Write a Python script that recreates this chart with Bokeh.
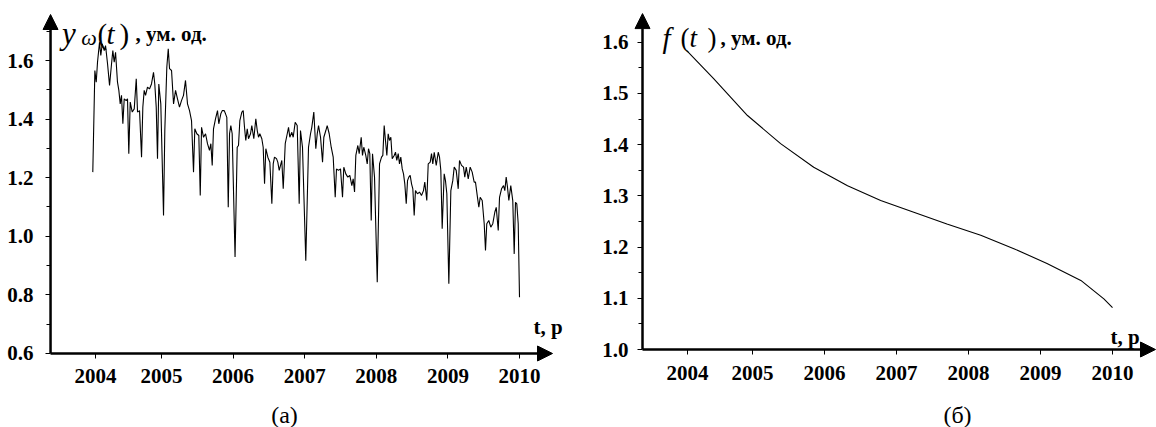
from bokeh.plotting import figure
from bokeh.layouts import row
from bokeh.models import (Range1d, FixedTicker, CustomJSTickFormatter,
                          Arrow, NormalHead, Label)
from bokeh.embed import file_html
from bokeh.resources import INLINE

# ---------------- data ----------------
# (а) weekly series y_w(t), years as decimal
years_a = [
    2004.040, 2004.069, 2004.088, 2004.106, 2004.134, 2004.152, 2004.172, 2004.200, 2004.218, 2004.246,
    2004.274, 2004.302, 2004.320, 2004.339, 2004.358, 2004.385, 2004.404, 2004.423, 2004.441, 2004.460,
    2004.479, 2004.507, 2004.525, 2004.543, 2004.563, 2004.591, 2004.619, 2004.647, 2004.665, 2004.693,
    2004.721, 2004.739, 2004.758, 2004.777, 2004.804, 2004.832, 2004.860, 2004.888, 2004.906, 2004.926,
    2004.944, 2004.962, 2004.990, 2005.028, 2005.046, 2005.074, 2005.094, 2005.112, 2005.140, 2005.168,
    2005.196, 2005.223, 2005.251, 2005.279, 2005.307, 2005.335, 2005.363, 2005.391, 2005.419, 2005.447,
    2005.465, 2005.493, 2005.521, 2005.541, 2005.559, 2005.587, 2005.615, 2005.642, 2005.670, 2005.689,
    2005.708, 2005.726, 2005.754, 2005.782, 2005.800, 2005.828, 2005.848, 2005.876, 2005.894, 2005.912,
    2005.932, 2005.950, 2005.968, 2005.987, 2006.027,
    2006.057, 2006.075, 2006.094, 2006.122, 2006.141, 2006.159, 2006.177, 2006.197, 2006.215, 2006.243,
    2006.261, 2006.289, 2006.317, 2006.337, 2006.355, 2006.373, 2006.401, 2006.420, 2006.439, 2006.457,
    2006.485, 2006.513, 2006.541, 2006.560, 2006.578, 2006.606, 2006.624, 2006.644, 2006.662, 2006.680,
    2006.700, 2006.728, 2006.756, 2006.774, 2006.792, 2006.820, 2006.839, 2006.867, 2006.895, 2006.923,
    2006.941, 2006.969, 2007.015, 2007.053, 2007.081, 2007.099, 2007.127, 2007.155, 2007.175, 2007.193,
    2007.221, 2007.249, 2007.267, 2007.295, 2007.314, 2007.342, 2007.370, 2007.398, 2007.426, 2007.444,
    2007.472, 2007.500, 2007.528, 2007.546, 2007.574, 2007.602, 2007.630, 2007.658, 2007.677, 2007.696,
    2007.714, 2007.742, 2007.761, 2007.789, 2007.807, 2007.825, 2007.853, 2007.873, 2007.891, 2007.909,
    2007.929, 2007.947, 2007.975, 2008.013,
    2008.045, 2008.073, 2008.091, 2008.110, 2008.128, 2008.147, 2008.166, 2008.184, 2008.203, 2008.222,
    2008.250, 2008.268, 2008.286, 2008.306, 2008.324, 2008.342, 2008.362, 2008.380, 2008.398, 2008.418,
    2008.436, 2008.454, 2008.473, 2008.492, 2008.510, 2008.529, 2008.547, 2008.575, 2008.603, 2008.631,
    2008.659, 2008.677, 2008.705, 2008.725, 2008.753, 2008.771, 2008.789, 2008.809, 2008.837, 2008.865,
    2008.883, 2008.901, 2008.920, 2008.948, 2008.966, 2008.985, 2009.013, 2009.041, 2009.068, 2009.088,
    2009.116, 2009.144, 2009.162, 2009.190, 2009.218, 2009.236, 2009.256, 2009.284, 2009.311, 2009.339,
    2009.367, 2009.385, 2009.413, 2009.432, 2009.451, 2009.479, 2009.507, 2009.525, 2009.543, 2009.571,
    2009.599, 2009.627, 2009.655, 2009.675, 2009.703, 2009.721, 2009.749, 2009.777, 2009.795, 2009.814,
    2009.832, 2009.851, 2009.878, 2009.906, 2009.926, 2009.944, 2009.962, 2009.982, 2010.000,
]
values_a = [
    1.219, 1.566, 1.526, 1.594, 1.662, 1.617, 1.657, 1.634, 1.651, 1.589,
    1.515, 1.589, 1.634, 1.594, 1.628, 1.526, 1.498, 1.452, 1.481, 1.384,
    1.469, 1.463, 1.469, 1.282, 1.458, 1.424, 1.435, 1.538, 1.424, 1.429,
    1.270, 1.441, 1.498, 1.481, 1.509, 1.503, 1.520, 1.560, 1.520, 1.441,
    1.265, 1.520, 1.452, 1.071, 1.361, 1.577, 1.640, 1.572, 1.566, 1.452,
    1.498, 1.469, 1.441, 1.463, 1.481, 1.532, 1.452, 1.429, 1.395, 1.219,
    1.367, 1.350, 1.344, 1.139, 1.372, 1.338, 1.350, 1.316, 1.293, 1.316,
    1.242, 1.367, 1.401, 1.429, 1.384, 1.418, 1.429, 1.429, 1.418, 1.406,
    1.099, 1.350, 1.378, 1.350, 0.929,
    1.304, 1.310, 1.395, 1.424, 1.429, 1.372, 1.327, 1.367, 1.333, 1.350,
    1.378, 1.333, 1.401, 1.361, 1.338, 1.350, 1.333, 1.304, 1.179, 1.299,
    1.270, 1.253, 1.111, 1.247, 1.270, 1.265, 1.253, 1.225, 1.242, 1.259,
    1.162, 1.316, 1.350, 1.372, 1.338, 1.355, 1.338, 1.389, 1.378, 1.111,
    1.361, 1.304, 0.917, 1.304, 1.350, 1.372, 1.424, 1.299, 1.350, 1.378,
    1.338, 1.253, 1.338, 1.361, 1.378, 1.350, 1.304, 1.270, 1.133, 1.230,
    1.225, 1.230, 1.133, 1.236, 1.213, 1.202, 1.208, 1.173, 1.196, 1.151,
    1.276, 1.310, 1.282, 1.338, 1.276, 1.304, 1.276, 1.247, 1.299, 1.282,
    1.054, 1.282, 1.202, 0.843,
    1.247, 1.270, 1.276, 1.378, 1.327, 1.276, 1.350, 1.327, 1.338, 1.265,
    1.276, 1.287, 1.259, 1.282, 1.247, 1.270, 1.230, 1.213, 1.179, 1.111,
    1.190, 1.202, 1.208, 1.179, 1.162, 1.071, 1.156, 1.145, 1.151, 1.139,
    1.156, 1.185, 1.122, 1.247, 1.253, 1.282, 1.247, 1.287, 1.242, 1.287,
    1.270, 1.225, 1.026, 1.213, 1.190, 1.145, 0.838, 1.156, 1.190, 1.236,
    1.225, 1.162, 1.259, 1.242, 1.236, 1.202, 1.236, 1.196, 1.236, 1.219,
    1.185, 1.185, 1.133, 1.099, 1.133, 1.122, 1.043, 0.952, 1.043, 1.054,
    1.031, 1.043, 1.082, 1.099, 1.020, 1.133, 1.162, 1.173, 1.156, 1.202,
    1.168, 1.122, 1.173, 1.122, 0.940, 1.116, 1.111, 1.043, 0.792,
]

# (б) trend f(t)
years_b = [2004.083, 2004.46, 2004.93, 2005.39, 2005.85, 2006.32, 2006.78, 2007.24,
           2007.70, 2008.17, 2008.63, 2009.09, 2009.56, 2009.88, 2010.00]
values_b = [1.584, 1.529, 1.457, 1.402, 1.356, 1.320, 1.291, 1.268,
            1.245, 1.223, 1.197, 1.168, 1.135, 1.099, 1.082]

# ticks (first x tick of the original sits slightly right of 2004.0)
xticks_a = [2004.078, 2005, 2006, 2007, 2008, 2009, 2010]
xticks_b = [2004.097, 2005, 2006, 2007, 2008, 2009, 2010]
yticks_a = [0.6, 0.8, 1.0, 1.2, 1.4, 1.6]
yminor_a = [0.7, 0.9, 1.1, 1.3, 1.5, 1.7]
yticks_b = [1.0, 1.1, 1.2, 1.3, 1.4, 1.5, 1.6]
yminor_b = [1.05, 1.15, 1.25, 1.35, 1.45, 1.55]

SERIF = "'Liberation Serif', 'Times New Roman', serif"


def head():
    return NormalHead(size=15, fill_color="black", line_color="black", line_width=1)


def make_fig(xr, yr, axis_x, axis_y, tip_x, tip_y, xticks, yticks, yminor, y_standoff):
    p = figure(width=578, height=427, x_range=Range1d(*xr), y_range=Range1d(*yr),
               output_backend="svg", toolbar_location=None,
               min_border_left=0, min_border_right=0, min_border_top=0,
               min_border_bottom=0)
    p.outline_line_color = None
    p.grid.visible = False
    p.background_fill_color = "white"
    for ax in (p.xaxis[0], p.yaxis[0]):
        ax.axis_line_color = None
        ax.major_tick_line_color = "black"
        ax.major_tick_line_width = 1
        ax.major_tick_in = 0
        ax.major_tick_out = 5
        ax.minor_tick_in = 0
        ax.minor_tick_out = 4
        ax.minor_tick_line_color = "black"
        ax.major_label_text_font = SERIF
        ax.major_label_text_font_style = "bold"
        ax.major_label_text_font_size = "21px"
        ax.major_label_text_color = "black"
    xa, ya = p.xaxis[0], p.yaxis[0]
    xa.fixed_location = axis_y
    ya.fixed_location = axis_x
    xa.bounds = (axis_x, tip_x)
    ya.bounds = (axis_y, tip_y)
    xa.ticker = FixedTicker(ticks=xticks, minor_ticks=[])
    xa.formatter = CustomJSTickFormatter(code="return Math.round(tick).toString()")
    xa.major_label_standoff = 11
    ya.ticker = FixedTicker(ticks=yticks, minor_ticks=yminor)
    ya.formatter = CustomJSTickFormatter(code="return tick.toFixed(1)")
    ya.major_label_standoff = y_standoff
    # axis lines with arrow heads
    p.add_layout(Arrow(end=head(), x_start=axis_x, y_start=axis_y, x_end=axis_x, y_end=tip_y,
                       line_width=2.5, line_color="black"))
    p.add_layout(Arrow(end=head(), x_start=axis_x, y_start=axis_y, x_end=tip_x, y_end=axis_y,
                       line_width=2.5, line_color="black"))
    return p


def lab(p, x, y, text, size, style="normal", align="left"):
    p.add_layout(Label(x=x, y=y, text=text, text_font=SERIF, text_font_style=style,
                       text_font_size=size, text_color="black", text_align=align,
                       text_baseline="alphabetic"))


# ---------- (а) ----------
pa = make_fig((2002.751, 2010.824), (0.3474, 1.8048), 2003.450, 0.6, 2010.461, 1.757,
              xticks_a, yticks_a, yminor_a, 12)
pa.line(years_a, values_a, line_color="black", line_width=1.1)
lab(pa, 2003.610, 1.692, "y", "31px", "italic")
lab(pa, 2003.880, 1.680, "ω", "22px", "italic")
lab(pa, 2004.106, 1.689, "(", "29px")
lab(pa, 2004.232, 1.689, "t", "29px", "italic")
lab(pa, 2004.413, 1.689, ")", "29px")
lab(pa, 2004.637, 1.692, ", ум. од.", "21px", "bold")
lab(pa, 2010.196, 0.689, "t, р", "21px", "bold")
lab(pa, 2006.718, 0.3884, "(а)", "24px", align="center")

# ---------- (б) ----------
pb = make_fig((2002.583, 2010.611), (0.8477, 1.6816), 2003.472, 1.0, 2010.597, 1.656,
              xticks_b, yticks_b, yminor_b, 9)
pb.line(years_b, values_b, line_color="black", line_width=1.1)
lab(pb, 2003.750, 1.609, "f", "29px", "italic")
lab(pb, 2004.000, 1.609, "(", "27px")
lab(pb, 2004.125, 1.609, "t", "27px", "italic")
lab(pb, 2004.375, 1.609, ")", "27px")
lab(pb, 2004.556, 1.609, ", ум. од.", "21px", "bold")
lab(pb, 2009.972, 1.025, "t, р", "21px", "bold")
lab(pb, 2007.847, 0.873, "(б)", "24px", align="center")

layout = row(pa, pb)
open("out.html", "w").write(file_html(layout, INLINE))
